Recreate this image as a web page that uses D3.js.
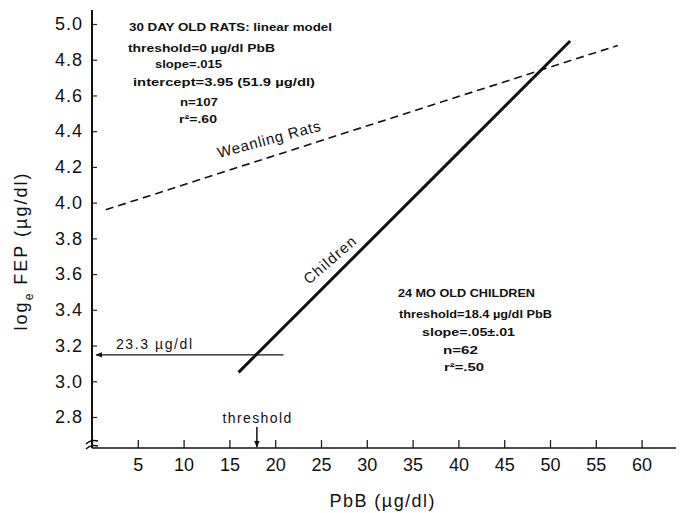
<!DOCTYPE html>
<html>
<head>
<meta charset="utf-8">
<script src="https://cdn.jsdelivr.net/npm/d3@7"></script>
<style>
body { margin: 0; background: #fff; }
svg { font-family: "Liberation Sans", Arial, sans-serif; }
</style>
</head>
<body>
<div id="chart"></div>
<script>
// axis ticks
var xTicks = [5, 10, 15, 20, 25, 30, 35, 40, 45, 50, 55, 60];
var yTicks = [2.8, 3.0, 3.2, 3.4, 3.6, 3.8, 4.0, 4.2, 4.4, 4.6, 4.8, 5.0];

// regression lines [PbB, loge FEP]
var ratsLine = [[1.5, 3.96], [57.4, 4.88]];
var childrenLine = [[16.0, 3.05], [52.2, 4.905]];

// 23.3 ug/dl reference level and threshold
var refLevel = 3.148;
var refLevelX = [0, 20.9];
var refLabel = "23.3 µg/dl";
var thresholdX = 18.0;
var thresholdLabel = "threshold";

var ratsNotes = ["30 DAY OLD RATS: linear model", "threshold=0 µg/dl PbB", "slope=.015",
  "intercept=3.95 (51.9 µg/dl)", "n=107", "r²=.60"];
var childNotes = ["24 MO OLD CHILDREN", "threshold=18.4 µg/dl PbB", "slope=.05±.01", "n=62", "r²=.50"];

var width = 680, height = 513;
var axisY = 448; // pixel row of the x axis

var x = d3.scaleLinear().domain([0, 60]).range([92, 641.6]);
var y = d3.scaleLinear().domain([2.8, 5.0]).range([417, 24]);

var svg = d3.select("#chart").append("svg")
  .attr("width", width)
  .attr("height", height);

var defs = svg.append("defs");
defs.append("marker")
  .attr("id", "arrow")
  .attr("viewBox", "0 0 10 10")
  .attr("refX", 9).attr("refY", 5)
  .attr("markerWidth", 7).attr("markerHeight", 7)
  .attr("markerUnits", "userSpaceOnUse")
  .attr("orient", "auto")
  .append("path")
  .attr("d", "M0,1 L10,5 L0,9 Z")
  .attr("fill", "#111");

// y axis
var yAxis = svg.append("g")
  .attr("transform", "translate(" + x(0) + ",0)")
  .call(d3.axisLeft(y).tickValues(yTicks).tickFormat(d3.format(".1f")).tickSize(-5).tickPadding(9));
yAxis.select(".domain").remove();
yAxis.selectAll("line").attr("stroke", "#222").attr("stroke-width", 1.2);
yAxis.selectAll("text")
  .attr("font-size", 18)
  .attr("letter-spacing", 1)
  .attr("fill", "#111")
  .attr("font-family", "Liberation Sans, Arial, sans-serif");

svg.append("line")
  .attr("x1", x(0)).attr("x2", x(0))
  .attr("y1", 10).attr("y2", axisY)
  .attr("stroke", "#111").attr("stroke-width", 2);

// x axis
var xAxis = svg.append("g")
  .attr("transform", "translate(0," + axisY + ")")
  .call(d3.axisBottom(x).tickValues(xTicks).tickSize(-8).tickPadding(10));
xAxis.select(".domain").remove();
xAxis.selectAll("line").attr("stroke", "#222").attr("stroke-width", 1.3);
xAxis.selectAll("text")
  .attr("font-size", 18)
  .attr("fill", "#111")
  .attr("font-family", "Liberation Sans, Arial, sans-serif");

svg.append("line")
  .attr("x1", x(0)).attr("x2", 676)
  .attr("y1", axisY).attr("y2", axisY)
  .attr("stroke", "#111").attr("stroke-width", 1.6);

// axis break mark
svg.append("path")
  .attr("d", "M" + (x(0) - 6) + "," + (axisY - 4) + " q5,-5 12,-3 M" + (x(0) - 6) + "," + (axisY + 1) + " q5,-5 12,-3")
  .attr("fill", "none").attr("stroke", "#111").attr("stroke-width", 1.5);

// axis titles
svg.append("text")
  .attr("x", 382).attr("y", 507)
  .attr("text-anchor", "middle")
  .attr("font-size", 18)
  .attr("textLength", 105)
  .attr("fill", "#111")
  .text("PbB (µg/dl)");

var yTitle = svg.append("text")
  .attr("transform", "translate(27,251) rotate(-90)")
  .attr("text-anchor", "middle")
  .attr("font-size", 18)
  .attr("letter-spacing", 2)
  .attr("fill", "#111");
yTitle.append("tspan").text("log");
yTitle.append("tspan").attr("font-size", 12).attr("dy", 6).text("e");
yTitle.append("tspan").attr("dy", -6).text(" FEP (µg/dl)");

var line = d3.line()
  .x(function(d) { return x(d[0]); })
  .y(function(d) { return y(d[1]); });

// weanling rats (dashed)
svg.append("path")
  .datum(ratsLine)
  .attr("d", line)
  .attr("fill", "none")
  .attr("stroke", "#111")
  .attr("stroke-width", 1.6)
  .attr("stroke-dasharray", "8,5");

// children (solid)
svg.append("path")
  .datum(childrenLine)
  .attr("d", line)
  .attr("fill", "none")
  .attr("stroke", "#111")
  .attr("stroke-width", 3);

// line labels
svg.append("text")
  .attr("transform", "translate(219,158) rotate(-15)")
  .attr("font-size", 15)
  .attr("textLength", 106)
  .attr("fill", "#111")
  .text("Weanling Rats");

svg.append("text")
  .attr("transform", "translate(309,285) rotate(-41)")
  .attr("font-size", 15)
  .attr("textLength", 64)
  .attr("fill", "#111")
  .text("Children");

// 23.3 ug/dl arrow
svg.append("line")
  .attr("x1", x(refLevelX[1])).attr("x2", x(refLevelX[0]) + 4)
  .attr("y1", y(refLevel)).attr("y2", y(refLevel))
  .attr("stroke", "#111").attr("stroke-width", 1.3)
  .attr("marker-end", "url(#arrow)");

svg.append("text")
  .attr("x", 116).attr("y", 349)
  .attr("font-size", 14)
  .attr("textLength", 76)
  .attr("fill", "#111")
  .text(refLabel);

// threshold arrow
svg.append("line")
  .attr("x1", x(thresholdX)).attr("x2", x(thresholdX))
  .attr("y1", 427).attr("y2", axisY - 1)
  .attr("stroke", "#111").attr("stroke-width", 1.5)
  .attr("marker-end", "url(#arrow)");

svg.append("text")
  .attr("x", x(thresholdX)).attr("y", 423)
  .attr("text-anchor", "middle")
  .attr("font-size", 14)
  .attr("textLength", 69)
  .attr("fill", "#111")
  .text(thresholdLabel);

// annotation blocks
var ratsPos = [[129, 31, 203], [128, 52, 147], [155, 68, 67], [133, 86, 182], [180, 106, 38], [179, 123, 38]];
var childPos = [[398, 297, 137], [399, 318, 153], [422, 336, 93], [443, 354, 35], [444, 371, 40]];

function notes(texts, pos) {
  svg.append("g").selectAll("text")
    .data(texts)
    .enter().append("text")
    .attr("x", function(d, i) { return pos[i][0]; })
    .attr("y", function(d, i) { return pos[i][1]; })
    .attr("textLength", function(d, i) { return pos[i][2]; })
    .attr("lengthAdjust", "spacingAndGlyphs")
    .attr("font-size", 11)
    .attr("font-weight", "bold")
    .attr("fill", "#111")
    .text(function(d) { return d; });
}
notes(ratsNotes, ratsPos);
notes(childNotes, childPos);
</script>
</body>
</html>
